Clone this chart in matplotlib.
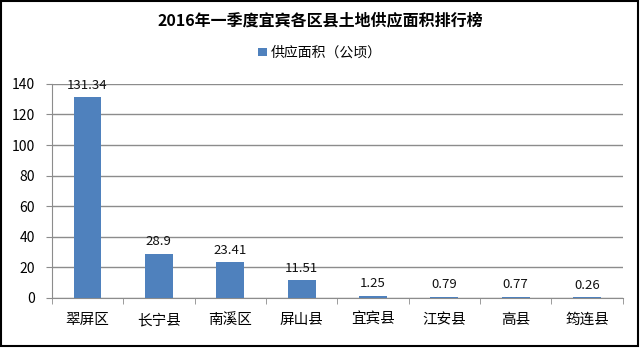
import matplotlib.pyplot as plt
from matplotlib.patches import Rectangle

plt.rcParams['font.family'] = ['Noto Sans CJK SC', 'DejaVu Sans']

districts = ['翠屏区', '长宁县', '南溪区', '屏山县', '宜宾县', '江安县', '高县', '筠连县']
area = [131.34, 28.9, 23.41, 11.51, 1.25, 0.79, 0.77, 0.26]
area_labels = ['131.34', '28.9', '23.41', '11.51', '1.25', '0.79', '0.77', '0.26']
yticks = [0, 20, 40, 60, 80, 100, 120, 140]

fig = plt.figure(figsize=(6.4, 3.48), dpi=100)
ax = fig.add_axes([0.081, 0.144, 0.892, 0.615])

x = list(range(len(districts)))
bars = ax.bar(x, area, width=0.39, color='#4F81BD', label='供应面积（公顷）', zorder=3)

for xi, v, s in zip(x, area, area_labels):
    ax.annotate(s, (xi, v), xytext=(0, 4), textcoords='offset points',
                ha='center', va='bottom', fontsize=9.5, color='#111111')

ax.set_xlim(-0.5, len(districts) - 0.5)
ax.set_ylim(0, 140)
ax.set_yticks(yticks)
ax.set_yticklabels([str(t) for t in yticks], fontsize=10)
ax.yaxis.grid(True, color='#8c8c8c', linewidth=1, zorder=0)

# category labels centred, tick marks between categories
ax.set_xticks(x)
ax.set_xticklabels(districts, fontsize=10.5)
ax.tick_params(axis='x', length=0, pad=11)
ax.set_xticks([i - 0.5 for i in range(len(districts) + 1)], minor=True)
ax.tick_params(axis='x', which='minor', length=4, color='#8c8c8c', direction='out')
ax.tick_params(axis='y', length=4, color='#8c8c8c', direction='out', pad=8)

for side in ['top', 'right']:
    ax.spines[side].set_visible(False)
ax.spines['left'].set_color('#8c8c8c')
ax.spines['bottom'].set_color('#8c8c8c')

fig.text(0.5, 0.942, '2016年一季度宜宾各区县土地供应面积排行榜', ha='center', va='center',
         fontsize=11.5, fontweight='bold')
fig.legend(handles=[bars], loc='center', bbox_to_anchor=(0.5, 0.848), frameon=False,
           fontsize=10, handlelength=0.6, handleheight=0.6, handletextpad=0.3)

fig.patches.append(Rectangle((0.002, 0.006), 0.995, 0.99, transform=fig.transFigure,
                             fill=False, edgecolor='black', linewidth=1.5))

fig.savefig('out.png', dpi=100)
